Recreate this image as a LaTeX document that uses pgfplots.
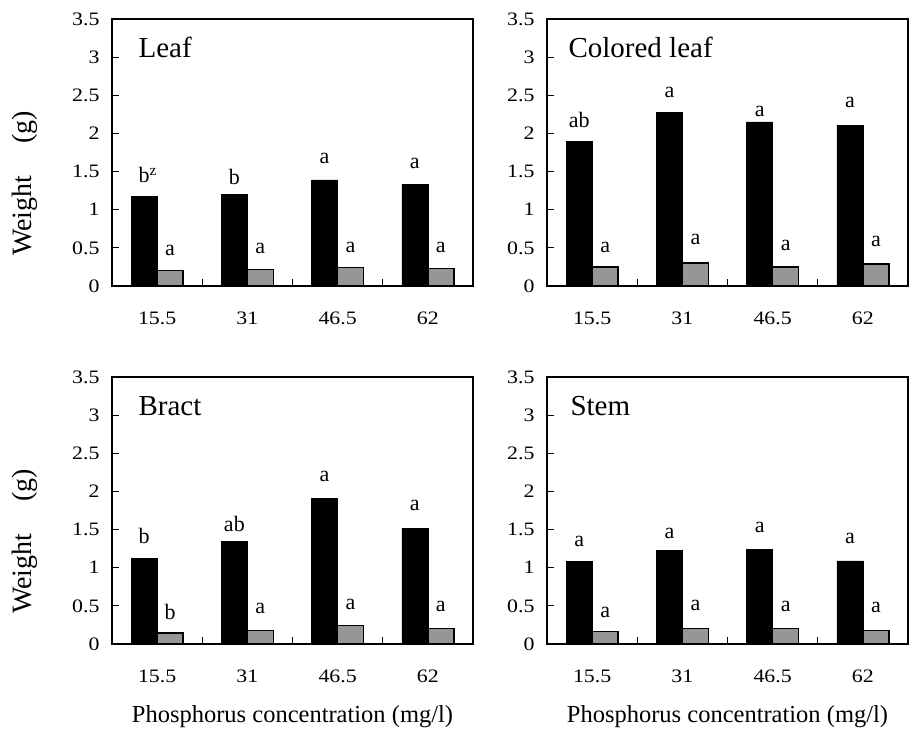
\documentclass[border=0pt]{standalone}
\usepackage{fontspec}
\setmainfont{Liberation Serif}
\newfontfamily\tickfont[FakeStretch=1.15]{Liberation Serif}
\usepackage{pgfplots}
\usepackage{pgfplotstable}
\pgfplotsset{compat=1.18}

\definecolor{bargray}{RGB}{150,150,150}

% x: category index (15.5, 31, 46.5, 62 mg/l)
\pgfplotstableread{
x black gray
0 1.17 0.200
1 1.20 0.215
2 1.39 0.240
3 1.33 0.228
}\leaf
\pgfplotstableread{
x black gray
0 1.90 0.25
1 2.28 0.30
2 2.15 0.25
3 2.11 0.29
}\colleaf
\pgfplotstableread{
x black gray
0 1.12 0.144
1 1.35 0.180
2 1.91 0.240
3 1.52 0.205
}\bract
\pgfplotstableread{
x black gray
0 1.085 0.166
1 1.23 0.205
2 1.24 0.205
3 1.09 0.175
}\stem

\pgfplotsset{
  panel/.style={
    scale only axis, width=361pt, height=267pt,
    anchor=north west,
    ybar=0pt, bar width=26pt,
    xmin=-0.5, xmax=3.5, ymin=0, ymax=3.5,
    xtick={0,1,2,3}, xticklabels={15.5,31,46.5,62},
    minor xtick={0.5,1.5,2.5},
    major x tick style={draw=none},
    ytick={0,0.5,1,1.5,2,2.5,3,3.5},
    ytick pos=left, xtick pos=bottom, tick align=inside,
    major tick length=7pt, minor tick length=7pt,
    axis line style={line width=2.4pt},
    tick style={line width=0.8pt, black},
    /pgf/number format/assume math mode=true,
    yticklabel style={font=\tickfont\fontsize{19}{20}\selectfont, xshift=-9pt},
    xticklabel style={font=\tickfont\fontsize{19}{20}\selectfont, yshift=-22pt},
    clip=false,
  },
  blackbar/.style={fill=black, draw=black, line width=0.5pt},
  graybar/.style={fill=bargray, draw=black, line width=1.5pt},
}

\newcommand{\blab}[3]{\node[font=\fontsize{22}{23}\selectfont, xshift=-13pt] at (axis cs:#1,#2) {#3};}
\newcommand{\glab}[3]{\node[font=\fontsize{22}{23}\selectfont, xshift=13pt] at (axis cs:#1,#2) {#3};}
\newcommand{\ptitle}[2]{\node[anchor=base west, font=\fontsize{29}{30}\selectfont] at ([xshift=#1,yshift=-38pt]rel axis cs:0,1) {#2};}
\newcommand{\wlabel}{\node[rotate=90, font=\fontsize{28}{30}\selectfont] at ([xshift=-87pt]rel axis cs:0,0.384) {Weight\hspace{32pt}(g)};}
\newcommand{\plabel}{\node[font=\fontsize{24.5}{26}\selectfont] at ([yshift=-73pt]rel axis cs:0.5,0) {Phosphorus concentration (mg/l)};}

\begin{document}
\begin{tikzpicture}
\path[use as bounding box] (0,0) rectangle (912pt,-731pt);

% Leaf
\begin{axis}[panel, at={(112pt,-19pt)}]
\addplot[blackbar] table[x=x, y=black] {\leaf};
\addplot[graybar] table[x=x, y=gray] {\leaf};
\ptitle{23pt}{Leaf}
\wlabel
\blab{0}{1.45}{b\rlap{\textsuperscript{z}}}
\blab{1}{1.43}{b}
\blab{2}{1.67}{a}
\blab{3}{1.61}{a}
\glab{0}{0.47}{a}
\glab{1}{0.49}{a}
\glab{2}{0.51}{a}
\glab{3}{0.51}{a}
\end{axis}

% Colored leaf
\begin{axis}[panel, at={(547pt,-19pt)}]
\addplot[blackbar] table[x=x, y=black] {\colleaf};
\addplot[graybar] table[x=x, y=gray] {\colleaf};
\ptitle{18pt}{Colored leaf}
\blab{0}{2.18}{ab}
\blab{1}{2.54}{a}
\blab{2}{2.29}{a}
\blab{3}{2.40}{a}
\glab{0}{0.50}{a}
\glab{1}{0.61}{a}
\glab{2}{0.53}{a}
\glab{3}{0.59}{a}
\end{axis}

% Bract
\begin{axis}[panel, at={(112pt,-377pt)}]
\addplot[blackbar] table[x=x, y=black] {\bract};
\addplot[graybar] table[x=x, y=gray] {\bract};
\ptitle{23pt}{Bract}
\wlabel
\plabel
\blab{0}{1.41}{b}
\blab{1}{1.57}{ab}
\blab{2}{2.20}{a}
\blab{3}{1.82}{a}
\glab{0}{0.42}{b}
\glab{1}{0.47}{a}
\glab{2}{0.52}{a}
\glab{3}{0.49}{a}
\end{axis}

% Stem
\begin{axis}[panel, at={(547pt,-377pt)}]
\addplot[blackbar] table[x=x, y=black] {\stem};
\addplot[graybar] table[x=x, y=gray] {\stem};
\ptitle{20pt}{Stem}
\plabel
\blab{0}{1.35}{a}
\blab{1}{1.45}{a}
\blab{2}{1.53}{a}
\blab{3}{1.38}{a}
\glab{0}{0.42}{a}
\glab{1}{0.50}{a}
\glab{2}{0.49}{a}
\glab{3}{0.48}{a}
\end{axis}
\end{tikzpicture}
\end{document}
